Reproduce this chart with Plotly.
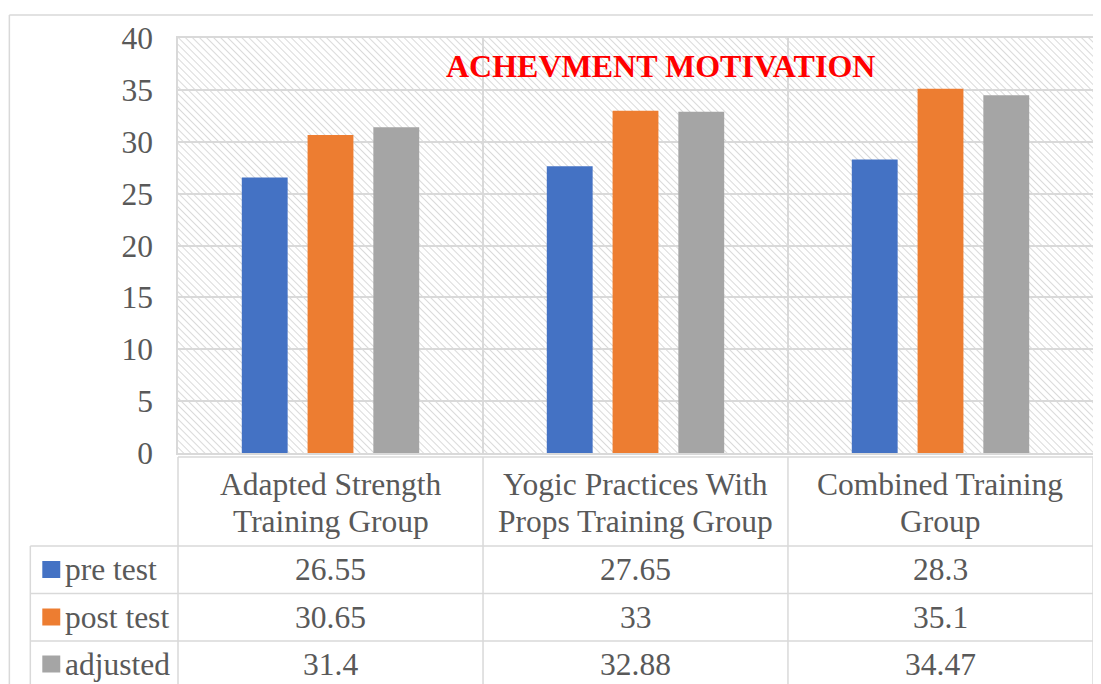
import base64
import plotly.graph_objects as go

# data
groups = ["Adapted Strength<br>Training Group",
          "Yogic Practices With<br>Props Training Group",
          "Combined Training<br>Group"]
series_names = ["pre test", "post test", "adjusted"]
pre_test = [26.55, 27.65, 28.3]
post_test = [30.65, 33, 35.1]
adjusted = [31.4, 32.88, 34.47]
y_ticks = [0, 5, 10, 15, 20, 25, 30, 35, 40]

colors = ["#4472C4", "#ED7D31", "#A5A5A5"]
all_series = [pre_test, post_test, adjusted]

# page has an 8px body margin, so the figure is drawn 8px smaller/shifted
OFF = 8
W, H = 1101 - OFF, 684 - OFF
L, T = 178, 38            # plot area top-left in page pixels
PW, PH = 917, 415
FONT = "Liberation Serif"
TXT = "#595959"
LINE = "#d9d9d9"
FS = 31.5


def px(x):
    return (x - L) / PW


def py(y):
    return (T + PH - y) / PH


fig = go.Figure()
for name, vals, c in zip(series_names, all_series, colors):
    fig.add_trace(go.Bar(x=groups, y=vals, name=name, marker_color=c,
                         marker_line_width=0, showlegend=False))

# hatched plot background (excel pattern fill)
svg = (f"<svg xmlns='http://www.w3.org/2000/svg' width='{PW}' height='{PH}'>"
       "<defs><pattern id='p' width='5' height='5' patternUnits='userSpaceOnUse' "
       "patternTransform='rotate(-45)'><line x1='0' y1='0' x2='0' y2='5' "
       "stroke='#d8d8d8' stroke-width='1.9'/></pattern></defs>"
       "<rect width='100%' height='100%' fill='white'/>"
       "<rect width='100%' height='100%' fill='url(#p)'/></svg>")
src = "data:image/svg+xml;base64," + base64.b64encode(svg.encode()).decode()
fig.add_layout_image(source=src, xref="paper", yref="paper", x=0, y=1,
                     sizex=1, sizey=1, sizing="stretch", layer="below")

shapes = []
def ln(x0, y0, x1, y1):
    shapes.append(dict(type="line", xref="paper", yref="paper",
                       x0=px(x0), y0=py(y0), x1=px(x1), y1=py(y1),
                       line=dict(color=LINE, width=1.5)))

# outer chart border
ln(9, 15, 1110, 15)
ln(9, 15, 9, 700)

# table grid under the chart
col_edges = [178, 483.7, 789.3, 1095]
ln(178, 457, 1095, 457)
ln(30, 546, 1095, 546)
ln(30, 593.5, 1095, 593.5)
ln(30, 641, 1095, 641)
ln(30, 546, 30, 700)
for xe in col_edges:
    ln(xe, 457, xe, 700)

annotations = []
def txt(x, y, s, size=FS, color=TXT, anchor="center"):
    annotations.append(dict(x=px(x), y=py(y), xref="paper", yref="paper",
                            xanchor=anchor, yanchor="middle", text=s, showarrow=False,
                            font=dict(size=size, color=color, family=FONT)))

row_y = [569.5, 617, 664]
centers = [(col_edges[i] + col_edges[i + 1]) / 2 for i in range(3)]
for i, g in enumerate(groups):
    l1, l2 = g.split("<br>")
    txt(centers[i], 484, l1)
    txt(centers[i], 521, l2)
for r, (name, vals, c) in enumerate(zip(series_names, all_series, colors)):
    shapes.append(dict(type="rect", xref="paper", yref="paper",
                       x0=px(42), x1=px(60), y0=py(row_y[r] - 8.5), y1=py(row_y[r] + 8.5),
                       fillcolor=c, line_width=0))
    txt(63, row_y[r], name, anchor="left")
    for i, v in enumerate(vals):
        txt(centers[i], row_y[r], f"{v:g}")

txt(662, 66, "<b>ACHEVMENT MOTIVATION</b>", size=32, color="#FF0000")

fig.update_layout(
    width=W, height=H,
    margin=dict(l=L - OFF, r=W - (L - OFF) - PW, t=T - OFF, b=H - (T - OFF) - PH),
    paper_bgcolor="white", plot_bgcolor="rgba(0,0,0,0)",
    barmode="group", bargap=0.353, bargroupgap=0.303,
    shapes=shapes, annotations=annotations,
    font=dict(family=FONT, color=TXT),
)
fig.update_xaxes(type="category", tickson="boundaries", showgrid=True, gridcolor=LINE,
                 gridwidth=1.5, showticklabels=False, ticks="", showline=True,
                 mirror=True, linecolor=LINE, linewidth=1.5)
fig.update_yaxes(range=[0, 40], tickvals=y_ticks, showgrid=True, gridcolor=LINE,
                 gridwidth=1.5, zeroline=False, showline=True, mirror=True,
                 linecolor=LINE, linewidth=1.5, ticks="", ticklabelstandoff=17,
                 tickfont=dict(size=FS, color=TXT, family=FONT))

fig.write_html("out.html")
